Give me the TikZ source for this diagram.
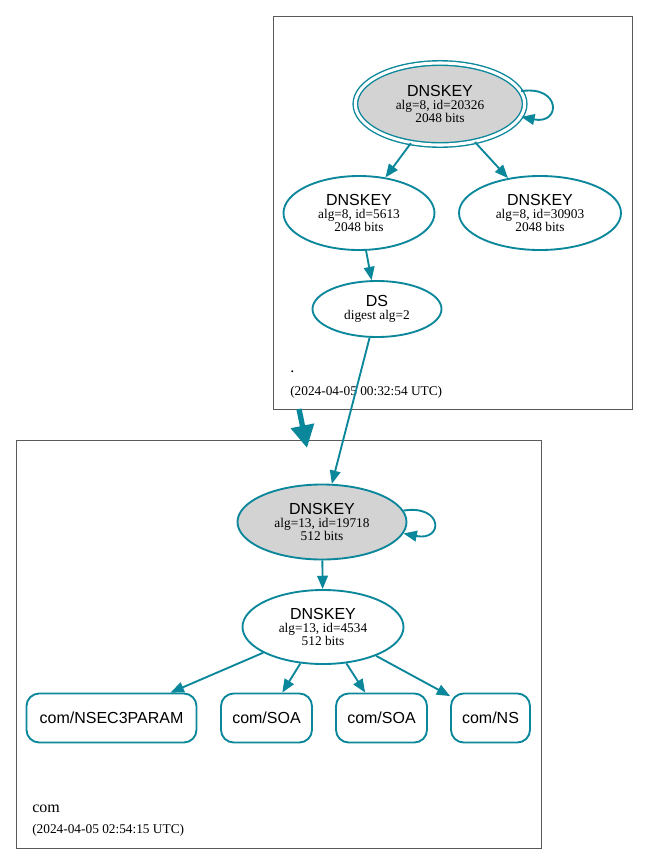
\documentclass[tikz,border=0pt]{standalone}
\usepackage{fontspec}
\setmainfont{Liberation Serif}
\setsansfont{Liberation Sans}
\usetikzlibrary{shapes.geometric,arrows.meta}
\definecolor{secure}{HTML}{0A879A}
\definecolor{keyfill}{HTML}{D3D3D3}
\newlength{\px}
\setlength{\px}{0.75pt}
\newcommand\keytext[3]{{\sffamily\fontsize{12}{12}\selectfont #1}\\#2\\#3}

\begin{document}
\begin{tikzpicture}[x=\px,y=-\px,
    key/.style={ellipse,draw=secure,line width=1.4pt,inner sep=0pt,align=center,
      font=\fontsize{10}{9.5}\selectfont},
    ksk/.style={key,fill=keyfill},
    rrset/.style={rectangle,rounded corners=9.5pt,draw=secure,line width=1.4pt,
      minimum height=36.75pt,inner sep=0pt,font=\sffamily\fontsize{12}{12}\selectfont},
    edge/.style={draw=secure,line width=1.4pt,-{Triangle[length=10pt,width=8pt]}},
    deleg/.style={draw=secure,line width=4pt,-{Triangle[length=17pt,width=17pt]}},
    zone/.style={draw=black!65,line width=0.65pt},
    zonename/.style={anchor=base west,inner sep=0pt,font=\fontsize{12}{12}\selectfont},
    zonetime/.style={anchor=base west,inner sep=0pt,font=\fontsize{10}{10}\selectfont}]
        \useasboundingbox (0,0) rectangle (648,865);

        %the zone boxes
        \draw[zone] (273,16) rectangle (632,409);
        \draw[zone] (16,440) rectangle (541,848);

        %root zone
        \node[ksk,double=white,double distance=2.3pt,line width=1.05pt,
          minimum width=127pt,minimum height=61.5pt] (rootksk) at (440,104)
          {\keytext{DNSKEY}{alg=8, id=20326}{2048 bits}};
        \node[key,minimum width=113.25pt,minimum height=55.5pt] (rootzsk) at (359,213)
          {\keytext{DNSKEY}{alg=8, id=5613}{2048 bits}};
        \node[key,minimum width=121.5pt,minimum height=55.5pt] (rootzsk2) at (540,213)
          {\keytext{DNSKEY}{alg=8, id=30903}{2048 bits}};
        \node[key,minimum width=96.75pt,minimum height=42pt] (comds) at (377,309)
          {{\sffamily\fontsize{12}{12}\selectfont DS}\\digest alg=2};
        \node[zonename] (rootname) at (290,372) {.};
        \node[zonetime] (roottime) at (290,395) {(2024-04-05 00:32:54 UTC)};

        %com zone
        \node[ksk,minimum width=126.75pt,minimum height=56.25pt] (comksk) at (322,522)
          {\keytext{DNSKEY}{alg=13, id=19718}{512 bits}};
        \node[key,minimum width=120.75pt,minimum height=55.5pt] (comzsk) at (323,627)
          {\keytext{DNSKEY}{alg=13, id=4534}{512 bits}};
        \node[rrset,minimum width=127.5pt] (nsec3param) at (111.5,718) {com/NSEC3PARAM};
        \node[rrset,minimum width=68.25pt] (soa1) at (266.5,718) {com/SOA};
        \node[rrset,minimum width=68.25pt] (soa2) at (381.5,718) {com/SOA};
        \node[rrset,minimum width=59.25pt] (ns) at (490.5,718) {com/NS};
        \node[zonename] (comname) at (32,812) {com};
        \node[zonetime] (comtime) at (32,833) {(2024-04-05 02:54:15 UTC)};

        %signatures
        \draw[edge] (rootksk.9) .. controls +(40,-6) and +(40,8) .. (rootksk.-9);
        \draw[edge] (rootksk) -- (rootzsk);
        \draw[edge] (rootksk) -- (rootzsk2);
        \draw[edge] (rootzsk) -- (comds);
        \draw[edge] (comds) -- (comksk);
        \draw[edge] (comksk.8) .. controls +(40,-6) and +(40,8) .. (comksk.-8);
        \draw[edge] (comksk) -- (comzsk);
        \foreach \rr in {nsec3param,soa1,soa2,ns}{
          \draw[edge] (comzsk) -- (\rr);
        }

        %delegation
        \coordinate (delegtop) at (299,409);
        \coordinate (delegbot) at (307,448);
        \draw[deleg] (delegtop) -- (delegbot);
      \end{tikzpicture}
\end{document}
